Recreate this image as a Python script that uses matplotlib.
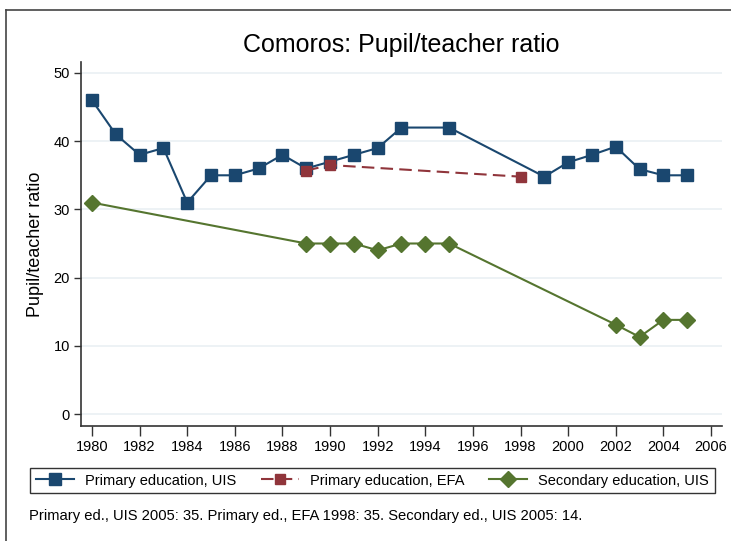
import matplotlib
matplotlib.use("Agg")
import matplotlib.pyplot as plt
from matplotlib.lines import Line2D

plt.rcParams['font.family'] = ['Liberation Sans', 'DejaVu Sans']

years_uis = [1980, 1981, 1982, 1983, 1984, 1985, 1986, 1987, 1988, 1989, 1990, 1991,
             1992, 1993, 1995, 1999, 2000, 2001, 2002, 2003, 2004, 2005]
primary_uis = [46, 41, 38, 39, 31, 35, 35, 36, 38, 36, 37, 38,
               39, 42, 42, 34.8, 36.9, 38.0, 39.2, 35.9, 35.0, 35.0]

years_efa = [1989, 1990, 1998]
primary_efa = [35.7, 36.5, 34.8]

years_sec = [1980, 1989, 1990, 1991, 1992, 1993, 1994, 1995, 2002, 2003, 2004, 2005]
secondary_uis = [31, 25, 25, 25, 24, 25, 25, 25, 13.1, 11.3, 13.8, 13.8]

x_ticks = list(range(1980, 2007, 2))
y_ticks = [0, 10, 20, 30, 40, 50]

title = "Comoros: Pupil/teacher ratio"
ylabel = "Pupil/teacher ratio"
labels = ["Primary education, UIS", "Primary education, EFA", "Secondary education, UIS"]
note = "Primary ed., UIS 2005: 35. Primary ed., EFA 1998: 35. Secondary ed., UIS 2005: 14."

c_uis = "#1a476f"
c_efa = "#90353b"
c_sec = "#55752f"

W, H = 731, 541
fig = plt.figure(figsize=(W / 100, H / 100), dpi=100)
ax = fig.add_axes([81 / W, (H - 426) / H, 641 / W, 364 / H])

ax.plot(years_uis, primary_uis, color=c_uis, lw=1.5, marker='s', ms=8.5,
        markeredgecolor=c_uis, label=labels[0], zorder=3)
ax.plot(years_efa, primary_efa, color=c_efa, lw=1.5, ls=(0, (6, 3)), marker='s', ms=7.5,
        markeredgecolor=c_efa, label=labels[1], zorder=3)
ax.plot(years_sec, secondary_uis, color=c_sec, lw=1.5, marker='D', ms=8,
        markeredgecolor=c_sec, label=labels[2], zorder=3)

ax.set_xlim(1980 - 11 / 23.8, 2006 + 11 / 23.8)
ax.set_ylim(-12 / 6.82, 50 + 11 / 6.82)
ax.set_xticks(x_ticks)
ax.set_yticks(y_ticks)
ax.tick_params(axis='x', direction='out', length=7, width=1, labelsize=10.5, pad=3, color='#333333')
ax.tick_params(axis='y', direction='out', length=5, width=1, labelsize=10.5, pad=3, color='#333333')
ax.grid(axis='y', color='#eaf0f4', lw=1.2, zorder=0)
ax.set_axisbelow(True)
for s in ['top', 'right']:
    ax.spines[s].set_visible(False)
for s in ['left', 'bottom']:
    ax.spines[s].set_color('#333333')
    ax.spines[s].set_linewidth(1.2)

ax.set_ylabel(ylabel, fontsize=13, labelpad=7)
fig.text((81 + 722) / 2 / W, 1 - 45 / H, title, ha='center', va='center', fontsize=18)

leg = fig.legend(loc='center', bbox_to_anchor=(30 / W, (H - 498) / H, 685 / W, 35 / H),
                 mode='expand', ncol=3, frameon=True, fancybox=False, fontsize=10.5,
                 handlelength=2.6, handletextpad=0.8, borderaxespad=0, columnspacing=1.5)
leg.get_frame().set_edgecolor('black')
leg.get_frame().set_linewidth(1.0)

fig.text(29 / W, 1 - 516 / H, note, ha='left', va='center', fontsize=10.6)

# outer frame (top and left edges visible)
fig.add_artist(Line2D([6 / W, 6 / W], [0, 1 - 10 / H], transform=fig.transFigure,
                      color='#444444', lw=1.2))
fig.add_artist(Line2D([6 / W, 1], [1 - 10 / H, 1 - 10 / H], transform=fig.transFigure,
                      color='#444444', lw=1.2))

fig.savefig("out.png", dpi=100)
